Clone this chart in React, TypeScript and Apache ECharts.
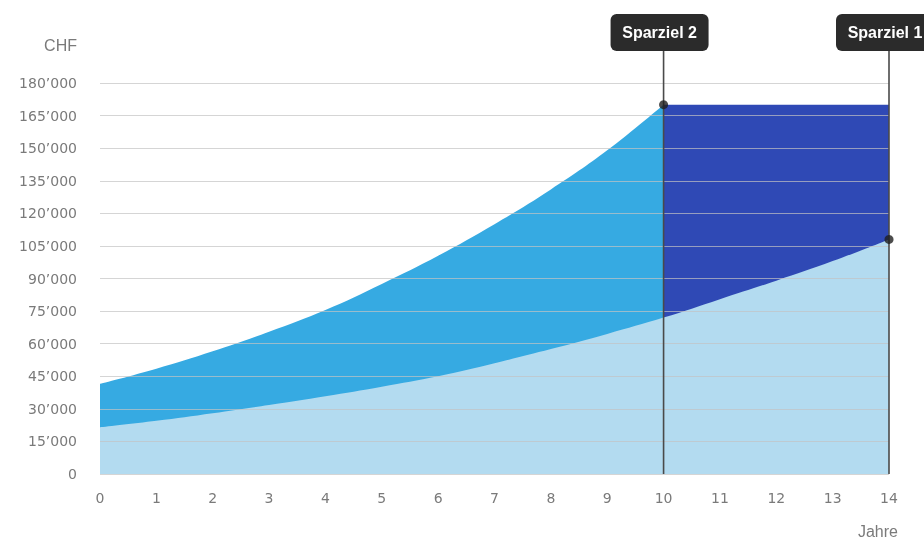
import React, { useEffect, useRef } from "react";
import * as echarts from "echarts";

const years = [0, 1, 2, 3, 4, 5, 6, 7, 8, 9, 10, 11, 12, 13, 14];
const lowerCurve = [21500, 24500, 28000, 31800, 35800, 40200, 45000, 51000, 57500, 64500, 72000, 80500, 89000, 98000, 108000];
const upperYears = [0, 1, 2, 3, 4, 5, 6, 7, 8, 9, 10];
const upperCurve = [41500, 48500, 56500, 65500, 75500, 87500, 100500, 115000, 131000, 149000, 170000];
const goalYears = [10, 11, 12, 13, 14];
const goalValue = [170000, 170000, 170000, 170000, 170000];
const markerYears = [10, 14];
const markerLabels = ["Sparziel 2", "Sparziel 1"];
const markerValues = [170000, 108000];

export default function App() {
  const ref = useRef<HTMLDivElement>(null);
  useEffect(() => {
    const chart = echarts.init(ref.current!, null, { renderer: "svg" });
    const fmt = (v: number) => (v === 0 ? "0" : `${v / 1000}’000`);
    chart.setOption({
      animation: false,
      grid: { left: 100, right: 35, top: 83, bottom: 61 },
      xAxis: {
        type: "value",
        min: 0,
        max: 14,
        interval: 1,
        axisLine: { show: false },
        axisTick: { show: false },
        splitLine: { show: false },
        axisLabel: { color: "#7a7a7a", fontFamily: "DejaVu Sans", fontSize: 14, margin: 17 },
        name: "Jahre",
        nameLocation: "end",
        nameGap: 9,
        nameTextStyle: {
          color: "#7a7a7a",
          fontFamily: "Liberation Sans",
          fontSize: 16,
          align: "right",
          verticalAlign: "top",
          padding: [49, 0, 0, 0],
        },
      },
      yAxis: {
        type: "value",
        min: 0,
        max: 180000,
        interval: 15000,
        z: 5,
        axisLine: { show: false },
        axisTick: { show: false },
        splitLine: { lineStyle: { color: "rgba(195,195,195,0.7)", width: 1.2 } },
        axisLabel: { color: "#7a7a7a", fontFamily: "DejaVu Sans", fontSize: 14, margin: 23, formatter: fmt },
        name: "CHF",
        nameLocation: "end",
        nameGap: 30,
        nameTextStyle: {
          color: "#7a7a7a",
          fontFamily: "Liberation Sans",
          fontSize: 16,
          align: "right",
          padding: [0, 23, 0, 0],
        },
      },
      series: [
        {
          type: "line",
          data: upperYears.map((y, i) => [y, upperCurve[i]]),
          smooth: 0.4,
          showSymbol: false,
          lineStyle: { width: 0 },
          areaStyle: { color: "#36aae2", opacity: 1 },
          z: 2,
        },
        {
          type: "line",
          data: goalYears.map((y, i) => [y, goalValue[i]]),
          showSymbol: false,
          lineStyle: { width: 0 },
          areaStyle: { color: "#2f49b5", opacity: 1 },
          z: 2,
        },
        {
          type: "line",
          data: years.map((y, i) => [y, lowerCurve[i]]),
          smooth: 0.4,
          showSymbol: false,
          lineStyle: { width: 0 },
          areaStyle: { color: "#b3dbf0", opacity: 1 },
          z: 2,
        },
        {
          type: "custom",
          z: 8,
          clip: false,
          data: markerYears.map((y, i) => [y, 0, i]),
          encode: { x: 0, y: 1 },
          renderItem: (params: any, api: any) => {
            const x = api.value(0);
            const idx = api.value(2);
            const p = api.coord([x, 0]);
            const top = params.coordSys.y - 32;
            const cx = p[0] - 4;
            return {
              type: "group",
              children: [
                {
                  type: "line",
                  shape: { x1: p[0], y1: p[1], x2: p[0], y2: top },
                  style: { stroke: "#4a4a4a", lineWidth: 1.6 },
                },
                {
                  type: "rect",
                  shape: { x: cx - 49, y: top - 37, width: 98, height: 37, r: 6 },
                  style: { fill: "#2b2b2b" },
                },
                {
                  type: "text",
                  x: cx,
                  y: top - 18.5,
                  style: {
                    text: markerLabels[idx],
                    fill: "#ffffff",
                    font: "bold 16px 'Liberation Sans'",
                    align: "center",
                    verticalAlign: "middle",
                  },
                },
              ],
            };
          },
        },
        {
          type: "scatter",
          z: 9,
          data: markerYears.map((y, i) => [y, markerValues[i]]),
          symbolSize: 9,
          itemStyle: { color: "#1f1f1f" },
        },
      ],
    });
    return () => chart.dispose();
  }, []);
  return <div ref={ref} style={{ position: "fixed", left: 0, top: 0, width: 924, height: 539 }} />;
}
